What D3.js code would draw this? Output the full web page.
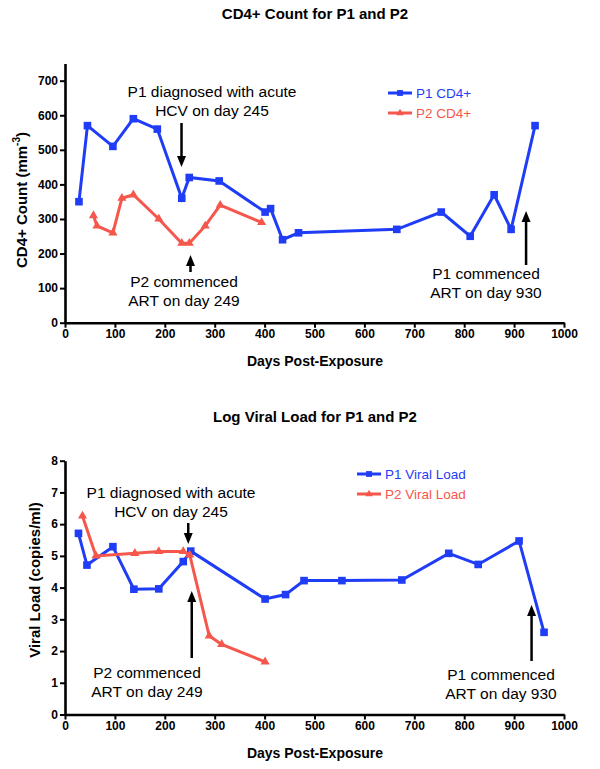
<!DOCTYPE html>
<html><head><meta charset="utf-8">
<script src="https://cdn.jsdelivr.net/npm/d3@7"></script>
<style>
body{margin:0;background:#fff;}
svg{display:block;font-family:"Liberation Sans",Arial,Helvetica,sans-serif;}
</style></head>
<body><svg id="c" width="600" height="769"></svg>
<script>
// ---- data ----
const xTicks = [0,100,200,300,400,500,600,700,800,900,1000];
const cd4Ticks = [0,100,200,300,400,500,600,700];
const vlTicks = [0,1,2,3,4,5,6,7,8];

const cd4DaysP1 = [28,45,96,137,185,234,249,309,401,412,436,468,665,754,812,860,894,942];
const cd4P1     = [350,570,510,590,560,360,420,410,320,330,240,260,270,320,250,370,270,570];
const cd4DaysP2 = [57,64,96,114,137,188,234,249,281,311,394];
const cd4P2     = [310,280,260,360,370,300,230,230,280,340,290];

const vlDaysP1 = [27,44,96,138,188,237,252,401,442,479,555,675,769,828,910,960];
const vlP1     = [5.71,4.71,5.29,3.95,3.96,4.82,5.15,3.64,3.78,4.22,4.22,4.24,5.08,4.73,5.47,2.59];
const vlDaysP2 = [35,62,140,188,237,250,289,314,401];
const vlP2     = [6.26,5.0,5.08,5.14,5.14,5.03,2.48,2.21,1.66];

const BLUE = "#1f3cf6", RED = "#f5574c";

const svg = d3.select("#c");

function panel(o){
  const x = d3.scaleLinear().domain([0,1000]).range([65,564]);
  const y = d3.scaleLinear().domain(o.yDomain).range([o.y0, o.y1]);
  const g = svg.append("g");

  // title
  g.append("text").attr("x",315).attr("y",o.titleY).attr("text-anchor","middle")
   .attr("font-weight","bold").attr("font-size",15).text(o.title);

  // axes
  const ax = g.append("g").attr("transform",`translate(0,${o.y0})`)
    .call(d3.axisBottom(x).tickValues(xTicks).tickFormat(d3.format("d")).tickSize(5).tickSizeOuter(0).tickPadding(2));
  const ay = g.append("g").attr("transform",`translate(65,0)`)
    .call(d3.axisLeft(y).tickValues(o.yTicks).tickFormat(d3.format("d")).tickSize(5).tickSizeOuter(0).tickPadding(2));
  [ax,ay].forEach(a=>{
    a.select(".domain").attr("stroke","#000").attr("stroke-width",2.6);
    a.selectAll(".tick line").attr("stroke","#000").attr("stroke-width",2);
    a.selectAll(".tick text").attr("fill","#000").attr("font-weight","bold")
      .attr("font-size",12).attr("font-family","'Liberation Sans',Arial,sans-serif");
  });

  // axis titles
  g.append("text").attr("x",315).attr("y",o.y0+43).attr("text-anchor","middle")
   .attr("font-weight","bold").attr("font-size",14).text("Days Post-Exposure");
  const yt = g.append("text").attr("transform",`translate(${o.ytX},${o.ytY}) rotate(-90)`)
   .attr("text-anchor","middle").attr("font-weight","bold").attr("font-size",15);
  yt.append("tspan").text(o.yTitle);
  if(o.ySup){
    yt.append("tspan").attr("font-size",10).attr("dy",-7).text(o.ySup);
    yt.append("tspan").attr("dy",7).text(")");
  }

  // series
  const line = d3.line().x(d=>x(d[0])).y(d=>y(d[1]));
  o.series.forEach(s=>{
    const pts = s.days.map((d,i)=>[d,s.vals[i]]);
    g.append("path").datum(pts).attr("d",line).attr("fill","none")
      .attr("stroke",s.color).attr("stroke-width",3).attr("stroke-linejoin","miter");
    const sym = d3.symbol().type(s.tri?d3.symbolTriangle:d3.symbolSquare).size(s.tri?36:58);
    g.selectAll(null).data(pts).join("path")
      .attr("transform",d=>`translate(${x(d[0])},${y(d[1])})`)
      .attr("d",sym).attr("fill",s.color);
  });

  // legend
  o.series.forEach((s,i)=>{
    const ly = o.legY + i*20;
    g.append("line").attr("x1",o.legX).attr("x2",o.legX+24).attr("y1",ly).attr("y2",ly)
      .attr("stroke",s.color).attr("stroke-width",3);
    g.append("path").attr("transform",`translate(${o.legX+12},${ly})`)
      .attr("d",d3.symbol().type(s.tri?d3.symbolTriangle:d3.symbolSquare).size(s.tri?24:34))
      .attr("fill",s.color);
    g.append("text").attr("x",o.legX+28).attr("y",ly+5).attr("font-size",13.5)
      .attr("fill",s.color).text(s.name);
  });

  // annotations
  o.notes.forEach(n=>{
    const t = g.append("text").attr("text-anchor","middle").attr("font-size",15.5);
    n.lines.forEach((l,i)=>t.append("tspan").attr("x",n.tx).attr("y",n.ty+i*18.5).text(l));
    const ax1 = x(n.day);
    const dir = n.tipY > n.fromY ? 1 : -1;
    g.append("line").attr("x1",ax1).attr("x2",ax1).attr("y1",n.fromY).attr("y2",n.tipY-dir*8)
      .attr("stroke","#000").attr("stroke-width",2.5);
    g.append("path").attr("d",`M${ax1},${n.tipY} L${ax1-4.5},${n.tipY-dir*11} L${ax1+4.5},${n.tipY-dir*11} Z`)
      .attr("fill","#000");
  });
}

panel({
  title:"CD4+ Count for P1 and P2", titleY:19,
  yDomain:[0,750], y0:322.7, y1:63.4, yTicks:cd4Ticks,
  yTitle:"CD4+ Count (mm", ySup:"-3", ytX:27, ytY:200,
  legX:388, legY:93,
  series:[
    {name:"P1 CD4+", days:cd4DaysP1, vals:cd4P1, color:BLUE, tri:false},
    {name:"P2 CD4+", days:cd4DaysP2, vals:cd4P2, color:RED, tri:true}
  ],
  notes:[
    {lines:["P1 diagnosed with acute","HCV on day 245"], tx:212, ty:97, day:233.5, fromY:123, tipY:167},
    {lines:["P2 commenced","ART on day 249"], tx:184, ty:287, day:251.5, fromY:272, tipY:255},
    {lines:["P1 commenced","ART on day 930"], tx:486, ty:279, day:924, fromY:265, tipY:211}
  ]
});

panel({
  title:"Log Viral Load for P1 and P2", titleY:422,
  yDomain:[0,8], y0:714.5, y1:460.7, yTicks:vlTicks,
  yTitle:"Viral Load (copies/ml)", ySup:null, ytX:40, ytY:580,
  legX:357, legY:474,
  series:[
    {name:"P1 Viral Load", days:vlDaysP1, vals:vlP1, color:BLUE, tri:false},
    {name:"P2 Viral Load", days:vlDaysP2, vals:vlP2, color:RED, tri:true}
  ],
  notes:[
    {lines:["P1 diagnosed with acute","HCV on day 245"], tx:171, ty:498, day:247, fromY:523, tipY:544},
    {lines:["P2 commenced","ART on day 249"], tx:147, ty:678, day:254, fromY:658, tipY:591},
    {lines:["P1 commenced","ART on day 930"], tx:501, ty:680, day:935, fromY:661, tipY:605}
  ]
});
</script></body></html>
